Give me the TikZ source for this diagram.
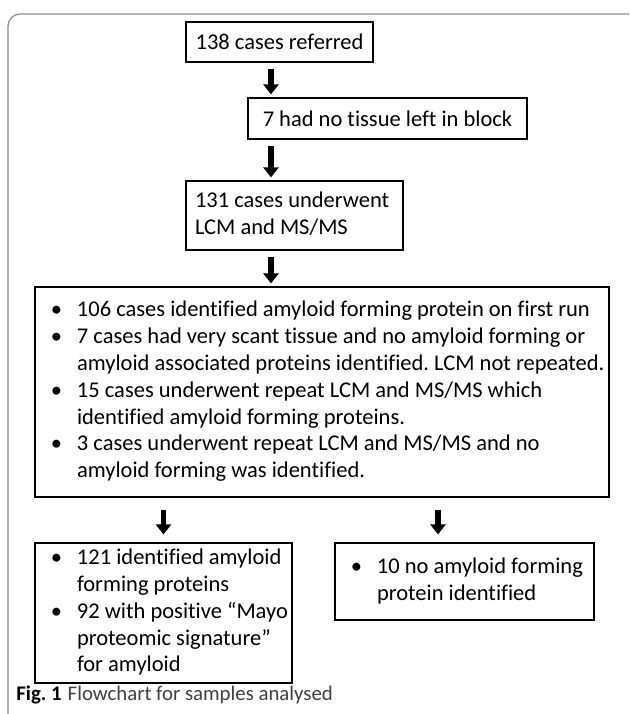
\documentclass[tikz,border=0pt]{standalone}
\usepackage{fontspec}
\setmainfont{Carlito}[Ligatures=NoCommon]
\usetikzlibrary{arrows.meta}
\frenchspacing
\definecolor{framegray}{gray}{0.55}
\definecolor{captiongray}{gray}{0.25}
% bullet mark and list layout
\newcommand{\bulmark}{\makebox[21pt][l]{\hspace{8pt}\textbullet}}
\newcommand{\bullist}[2]{\makebox[#1][l]{\begin{tabular}{@{}l@{}l@{}}#2\end{tabular}}}

\begin{document}
\begin{tikzpicture}[x=0.5pt, y=-0.5pt,
  flowbox/.style={draw, rectangle, line width=0.6pt, inner sep=0pt, font=\fontsize{11.25}{13.4}\selectfont},
  bigarrow/.style={-{Triangle[length=5pt, width=7.5pt]}, line width=2.6pt, shorten <=3pt, shorten >=1.5pt}]
  \useasboundingbox (0,0) rectangle (629,714);
  % Frame
  \draw[framegray, line width=0.6pt, rounded corners=6pt] (8,714) -- (8,14) -- (629,14);
  % Nodes
  \node[flowbox, minimum width=93.5pt, minimum height=20pt] (Referred) at (279.5,42) {138 cases referred};
  \node[flowbox, minimum width=139.5pt, minimum height=20.5pt] (NoTissue) at (387.5,118.5) {7 had no tissue left in block};
  \node[flowbox, minimum height=34.5pt] (Underwent) at (294.5,215.5)
    {\makebox[108.5pt][l]{\hspace{4.5pt}\begin{tabular}{@{}l@{}}131 cases underwent\\LCM and MS/MS\end{tabular}}};
  \node[flowbox, minimum height=105pt] (Results) at (322,392) {\bullist{287pt}{%
    \bulmark & 106 cases identified amyloid forming protein on first run\\
    \bulmark & 7 cases had very scant tissue and no amyloid forming or\\
             & amyloid associated proteins identified. LCM not repeated.\\
    \bulmark & 15 cases underwent repeat LCM and MS/MS which\\
             & identified amyloid forming proteins.\\
    \bulmark & 3 cases underwent repeat LCM and MS/MS and no\\
             & amyloid forming was identified.}};
  \node[flowbox, minimum height=70pt] (Identified) at (163.5,613) {\bullist{128.5pt}{%
    \bulmark & 121 identified amyloid\\
             & forming proteins\\
    \bulmark & 92 with positive “Mayo\\
             & proteomic signature”\\
             & for amyloid}};
  \node[flowbox, minimum height=38.5pt] (NoAmyloid) at (464.5,581.5) {\bullist{129.5pt}{%
    \bulmark & 10 no amyloid forming\\
             & protein identified}};
  % Caption
  \node[anchor=west, inner sep=0pt, font=\fontsize{10.4}{12}\selectfont] (Caption) at (16,695)
    {\textbf{Fig. 1}\hspace{3pt}{\color{captiongray}Flowchart for samples analysed}};
  % Edges
  \draw[bigarrow] ([xshift=-4.25pt]Referred.south) -- ([xshift=-4.25pt]Referred.south |- NoTissue.north);
  \draw[bigarrow] ([xshift=-11.75pt]Underwent.north |- NoTissue.south) -- ([xshift=-11.75pt]Underwent.north);
  \draw[bigarrow] ([xshift=-11.75pt]Underwent.south) -- ([xshift=-11.75pt]Underwent.south |- Results.north);
  \draw[bigarrow, shorten <=6pt, shorten >=4pt] (Results.south -| Identified.north) -- (Identified.north);
  \draw[bigarrow, shorten <=6pt, shorten >=4pt] ([xshift=-13.25pt]NoAmyloid.north |- Results.south) -- ([xshift=-13.25pt]NoAmyloid.north);
\end{tikzpicture}
\end{document}
